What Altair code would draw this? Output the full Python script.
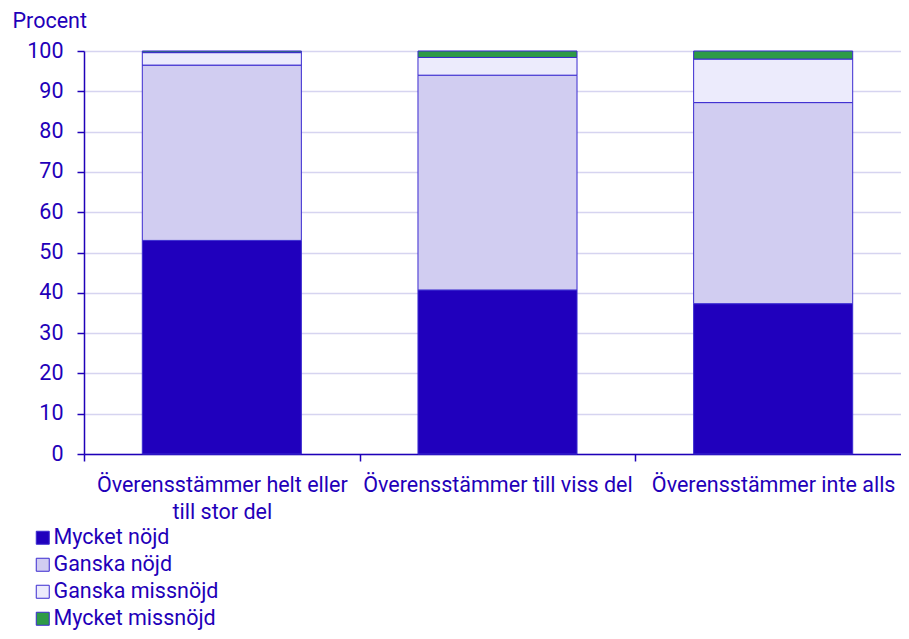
import altair as alt
import pandas as pd

categories = [
    "Överensstämmer helt eller|till stor del",
    "Överensstämmer till viss del",
    "Överensstämmer inte alls",
]
series = ["Mycket nöjd", "Ganska nöjd", "Ganska missnöjd", "Mycket missnöjd"]
mycket_nojd = [53.0, 40.7, 37.3]
ganska_nojd = [43.5, 53.3, 49.9]
ganska_missnojd = [3.1, 4.4, 10.8]
mycket_missnojd = [0.4, 1.6, 2.0]
colors = ["#2000BD", "#D1CDF1", "#ECEBFC", "#2E9A47"]

values = [mycket_nojd, ganska_nojd, ganska_missnojd, mycket_missnojd]
rows = []
for si, (s, vals) in enumerate(zip(series, values)):
    for c, v in zip(categories, vals):
        rows.append({"kategori": c, "serie": s, "varde": v, "ordning": si})
df = pd.DataFrame(rows)

TXT = "#1F00B9"
FONT = "Roboto"
FS = 21.5

chart = alt.Chart(df).mark_bar(
    stroke="#3B2BD0", strokeWidth=1, width={"band": 0.577}
).encode(
    x=alt.X(
        "kategori:N",
        sort=categories,
        scale=alt.Scale(paddingInner=0, paddingOuter=0, range=[0, 827]),
        axis=alt.Axis(
            title=None,
            labelAngle=0,
            labelExpr="split(datum.label, '|')",
            labelFontSize=FS,
            labelLineHeight=27,
            labelPadding=13,
            labelLimit=600,
            tickBand="extent",
            tickSize=7,
            tickColor=TXT,
            tickWidth=1.5,
            domainColor=TXT,
            domainWidth=1.5,
            grid=False,
        ),
    ),
    y=alt.Y(
        "varde:Q",
        stack="zero",
        scale=alt.Scale(domain=[0, 100], nice=False),
        axis=alt.Axis(
            title="Procent",
            titleAngle=0,
            titleAlign="left",
            titleBaseline="alphabetic",
            titleX=-72,
            titleY=-24,
            titleFontSize=FS,
            titleFontWeight="normal",
            values=list(range(0, 101, 10)),
            labelFontSize=FS,
            labelPadding=14,
            tickSize=7,
            tickColor=TXT,
            tickWidth=1.5,
            domainColor=TXT,
            domainWidth=1.5,
            gridColor="#D6D4F0",
            gridWidth=1.5,
        ),
    ),
    color=alt.Color(
        "serie:N",
        sort=series,
        scale=alt.Scale(domain=series, range=colors),
        legend=alt.Legend(
            title=None,
            orient="none",
            legendX=-52,
            legendY=476,
            padding=0,
            symbolType="square",
            symbolSize=169,
            symbolStrokeColor="#3B2BD0",
            symbolStrokeWidth=1,
            labelFontSize=FS,
            labelOffset=0,
            labelLimit=400,
            rowPadding=4,
            labelColor=TXT,
        ),
    ),
    order=alt.Order("ordning:Q", sort="ascending"),
).properties(
    width=817,
    height=403,
    autosize=alt.AutoSizeParams(type="none"),
    padding={"left": 76, "top": 43, "right": 0, "bottom": 177},
).configure_view(
    stroke=None
).configure_axis(
    labelColor=TXT,
    titleColor=TXT,
    labelFont=FONT,
    titleFont=FONT,
).configure_legend(
    labelFont=FONT,
)

chart.save("out.html", embed_options={"renderer": "svg", "actions": False})
